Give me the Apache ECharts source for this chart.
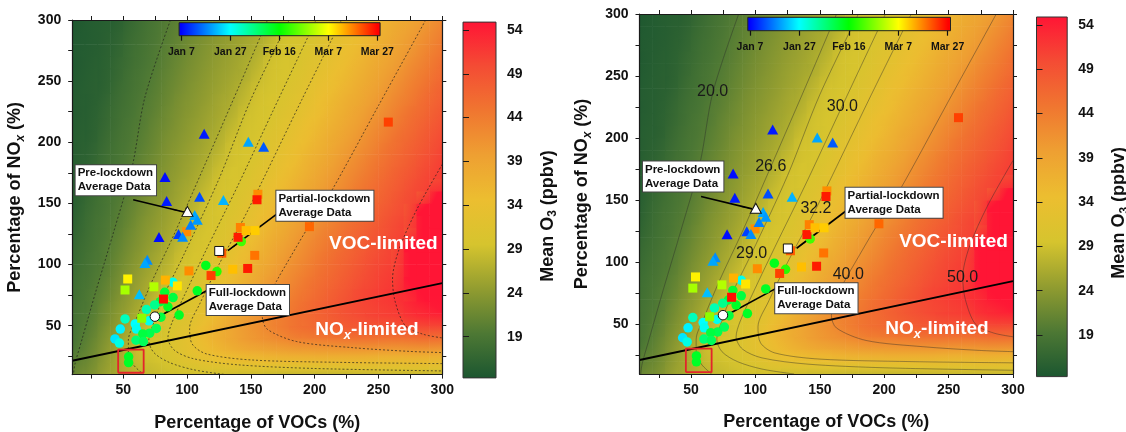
<!DOCTYPE html>
<html><head><meta charset="utf-8">
<script src="https://cdn.jsdelivr.net/npm/echarts@6/dist/echarts.min.js"></script>
<style>html,body{margin:0;padding:0;background:#fff}#c{width:1126px;height:432px}</style>
</head><body><div id="c"></div>
<script>
// ---------------- data ----------------
const gridXCenters = [15,25,35,45,55,65,75,85,95,105,115,125,135,145,155,165,175,185,195,205,215,225,235,245,255,265,275,285,295];
const gridYCenters = [15,25,35,45,55,65,75,85,95,105,115,125,135,145,155,165,175,185,195,205,215,225,235,245,255,265,275,285,295];
// Mean O3 (ppbv) read from the background field, rows bottom (NOx 15%) -> top (NOx 295%)
const o3Rows = [
[21.4,22.6,24.5,25.9,27.1,28.1,28.7,29.2,29.8,30.3,30.8,31.0,31.3,31.4,31.5,31.5,31.5,31.6,31.6,31.6,31.6,31.6,31.7,31.7,31.7,31.6,31.7,31.7,31.7],
[20.5,21.9,23.9,25.7,27.4,28.8,29.4,30.0,31.1,32.3,33.5,34.5,35.2,35.8,36.2,36.6,36.9,37.2,37.3,37.4,37.4,37.4,37.4,37.3,37.2,37.1,37.3,37.3,37.1],
[19.6,21.3,23.3,25.2,27.1,28.8,29.6,30.3,31.7,33.3,35.1,36.7,37.9,39.1,39.9,40.5,41.1,41.7,42.0,42.2,42.5,42.8,42.9,42.9,42.8,42.8,43.1,43.3,43.2],
[19.3,20.7,22.7,24.5,26.3,28.1,29.3,29.9,31.3,33.1,35.3,37.1,38.7,40.1,41.3,42.4,43.5,44.6,45.2,45.8,46.4,46.9,47.2,47.3,47.3,47.4,47.9,48.2,48.1],
[19.0,20.2,22.1,23.9,25.6,27.3,29.0,29.7,30.7,32.1,34.2,36.3,38.1,39.9,41.3,42.8,44.0,45.2,46.1,47.0,47.9,48.7,49.4,50.0,50.3,50.6,51.4,52.0,52.2],
[18.8,19.8,21.6,23.4,25.0,26.6,28.3,29.4,30.0,31.4,33.1,35.2,37.1,38.9,40.5,42.0,43.4,44.9,46.1,47.2,48.3,49.3,50.1,50.7,51.2,51.8,53.0,53.8,54.5],
[18.5,19.6,21.0,22.8,24.4,25.9,27.6,29.1,29.7,30.8,32.2,34.2,36.2,37.9,39.7,41.2,42.6,44.1,45.4,46.6,47.8,48.9,50.1,50.8,51.5,52.2,53.3,54.9,54.9],
[18.3,19.3,20.6,22.3,23.9,25.4,26.9,28.6,29.5,30.1,31.5,33.2,35.2,37.0,38.7,40.4,41.8,43.3,44.7,46.0,47.1,48.3,49.5,50.4,51.2,51.9,54.9,54.9,54.9],
[18.0,19.0,20.1,21.8,23.4,24.8,26.2,27.8,29.2,29.8,30.9,32.3,34.2,36.1,37.8,39.5,41.0,42.5,43.9,45.3,46.5,47.7,48.9,50.0,50.8,51.5,54.9,54.9,54.9],
[17.7,18.8,19.8,21.3,22.9,24.3,25.7,27.1,28.8,29.5,30.3,31.6,33.3,35.1,36.9,38.5,40.2,41.6,43.1,44.6,45.9,47.1,48.3,49.5,50.4,51.2,54.9,54.9,54.9],
[17.4,18.5,19.6,20.9,22.4,23.8,25.1,26.5,28.1,29.3,29.9,31.0,32.4,34.2,36.0,37.7,39.3,40.8,42.3,43.8,45.2,46.4,47.6,48.8,50.0,50.8,54.9,54.9,54.9],
[17.0,18.3,19.3,20.5,22.0,23.4,24.7,25.9,27.4,29.0,29.6,30.4,31.7,33.3,35.1,36.8,38.4,40.0,41.5,43.0,44.4,45.8,47.0,48.2,49.4,50.4,51.2,54.9,54.9],
[16.7,18.1,19.1,20.1,21.5,23.0,24.2,25.4,26.7,28.3,29.3,29.9,31.1,32.5,34.2,36.0,37.5,39.1,40.7,42.1,43.6,45.1,46.3,47.5,48.8,50.0,50.8,54.9,54.9],
[16.4,17.8,18.8,19.8,21.1,22.5,23.8,25.0,26.2,27.6,29.1,29.7,30.5,31.8,33.4,35.1,36.7,38.3,39.8,41.3,42.8,44.3,45.6,46.9,48.1,49.3,50.4,54.9,54.9],
[16.1,17.4,18.6,19.5,20.7,22.1,23.4,24.5,25.7,27.0,28.6,29.4,30.0,31.2,32.6,34.2,35.9,37.4,39.0,40.5,42.0,43.5,45.0,46.2,47.4,48.7,49.9,50.8,54.9],
[15.9,17.1,18.3,19.3,20.4,21.7,23.0,24.1,25.3,26.4,27.9,29.2,29.7,30.6,31.9,33.4,35.1,36.6,38.1,39.6,41.1,42.6,44.1,45.5,46.8,48.0,49.3,50.4,51.2],
[15.9,16.8,18.1,19.1,20.0,21.3,22.6,23.8,24.8,25.9,27.2,28.8,29.5,30.1,31.3,32.6,34.2,35.8,37.3,38.8,40.3,41.8,43.3,44.8,46.1,47.4,48.6,49.9,50.8],
[15.8,16.5,17.8,18.8,19.8,21.0,22.2,23.4,24.5,25.5,26.6,28.1,29.2,29.8,30.7,32.0,33.5,35.0,36.6,38.0,39.5,41.0,42.5,44.0,45.4,46.7,47.9,49.2,50.4],
[15.7,16.3,17.5,18.6,19.5,20.6,21.8,23.1,24.1,25.1,26.1,27.4,29.0,29.5,30.2,31.4,32.7,34.2,35.8,37.2,38.7,40.1,41.6,43.1,44.7,46.0,47.3,48.5,49.8],
[15.6,16.0,17.2,18.4,19.3,20.3,21.5,22.7,23.7,24.7,25.7,26.8,28.4,29.3,29.8,30.8,32.0,33.5,35.0,36.5,37.9,39.3,40.8,42.3,43.8,45.3,46.6,47.9,49.2],
[15.5,15.9,16.9,18.1,19.1,20.0,21.2,22.3,23.4,24.4,25.3,26.3,27.7,29.1,29.6,30.3,31.5,32.8,34.3,35.7,37.1,38.5,39.9,41.5,43.0,44.5,45.9,47.2,48.5],
[15.4,15.8,16.7,17.9,18.8,19.8,20.8,22.0,23.1,24.0,25.0,25.9,27.0,28.6,29.4,29.9,30.9,32.1,33.5,35.0,36.4,37.8,39.2,40.6,42.1,43.7,45.2,46.5,47.8],
[15.4,15.7,16.4,17.6,18.6,19.5,20.5,21.6,22.8,23.7,24.6,25.6,26.5,27.9,29.2,29.7,30.4,31.6,32.8,34.3,35.7,37.1,38.4,39.8,41.3,42.8,44.3,45.8,47.1],
[15.3,15.7,16.1,17.3,18.4,19.3,20.2,21.3,22.4,23.4,24.3,25.2,26.1,27.3,28.8,29.4,30.0,31.0,32.2,33.6,35.0,36.3,37.7,39.0,40.4,42.0,43.5,45.0,46.4],
[15.2,15.6,16.0,17.0,18.2,19.1,20.0,21.0,22.1,23.1,24.0,24.9,25.7,26.6,28.1,29.2,29.7,30.5,31.7,32.9,34.3,35.6,37.0,38.3,39.6,41.1,42.7,44.2,45.6],
[15.1,15.5,15.9,16.8,17.9,18.8,19.7,20.7,21.8,22.8,23.7,24.6,25.4,26.3,27.5,29.0,29.5,30.0,31.1,32.2,33.6,35.0,36.3,37.6,38.9,40.2,41.8,43.3,44.9],
[15.1,15.4,15.8,16.5,17.7,18.6,19.5,20.5,21.5,22.5,23.4,24.3,25.1,25.9,26.9,28.4,29.3,29.8,30.6,31.7,33.0,34.3,35.6,36.9,38.2,39.5,40.9,42.5,44.0],
[15.0,15.3,15.7,16.3,17.4,18.4,19.3,20.2,21.2,22.2,23.1,24.0,24.8,25.6,26.4,27.7,29.1,29.6,30.1,31.2,32.3,33.6,34.9,36.2,37.5,38.8,40.1,41.6,43.2],
[14.9,15.3,15.6,16.0,17.1,18.2,19.1,20.0,20.9,21.9,22.9,23.7,24.5,25.3,26.1,27.1,28.6,29.3,29.8,30.7,31.8,33.0,34.3,35.6,36.8,38.1,39.3,40.7,42.3]
];
const o3Min = 14.3, o3Max = 54.9;
const o3Colors = ['#1b5630','#4d7834','#919c30','#d6c42e','#ecbe30','#eea032','#f07630','#f44c34','#ff1535'];
const o3Ticks = [19,24,29,34,39,44,49,54];

const axisTickVals = [25,50,75,100,125,150,175,200,225,250,275,300];
const axisLabelVals = [50,100,150,200,250,300];

// points: [VOC %, NOx %, day of year 2020]
const prePts = [[113.4,207,9],[148,200.5,20],[160,196.4,14],[82.7,171.5,8],[84,152,9],[109.8,155.5,13],[128.5,152.8,21],[106,140.5,20],[108,136.7,19],[102.8,132.5,17],[93.3,125,12],[96.5,122.8,18],[78,122.5,8],[68.8,104,18],[67,101.3,20],[62.6,75.8,22]];
const fullPts = [[114.7,99.3,45],[123.4,94.3,50],[108,78.5,44],[93.8,58.7,44],[89,85.5,28],[82.5,77.3,43],[89,73,42],[79,69.6,42],[85,65.5,44],[74.6,67,36],[68.2,63.2,33],[79.5,57,42],[51.4,55.5,32],[70.2,54,28],[59.4,51.4,27],[60.3,47.2,28],[47.7,47.2,26],[75.9,47.8,40],[70.7,43.9,41],[65.3,43.3,42],[60,38.1,38],[65.8,37,40],[43.5,39.2,25],[47,35.8,29],[54.2,24.6,44],[54.2,19.8,44],[142.5,118.8,52]];
const partPts = [[99.7,126.9,76],[53.5,88.2,68],[51.4,79.2,60],[74,81.8,61],[83,87.3,73],[92.4,82.5,69],[81.5,71.8,86],[101.5,94.8,76],[118.8,91,82],[135.8,96.2,72],[127.2,109.3,80],[140,122.3,85],[141.8,130.3,77],[146.3,127.8,72],[153.3,127.8,71],[155.5,157.5,76],[154.8,153,85],[153,107.5,78],[147.5,96.8,85],[195.9,131,79],[257.7,216.5,82],[64.5,56.1,58]];
const avgPre = [100.3,143.5], avgPart = [125.2,111.1], avgFull = [74.8,57.4];

const dateTickDays = [7,27,47,67,87];
const dateTickLabels = ['Jan 7','Jan 27','Feb 16','Mar 7','Mar 27'];
const dateColors = ['#0000ff','#00ffff','#00ff00','#ffff00','#ff0000'];
const dateMin = 6.1, dateMax = 88.15;

const ridgeLine = [[10,21.3],[300,84.8]];
const redBox = [[46,11.5],[66,11.5],[66,30.5],[46,30.5],[46,11.5]];

const contourLevels = ['20.0','26.6','29.0','30.0','32.2','40.0','50.0'];
const contourPaths = [
  [[87,300],[67,237],[57,180],[42,125],[28.5,78],[18,40],[12,18],[11,10]],
  [[163,300],[142.5,250],[112,177],[90,125],[72,85],[60,55],[54,38],[54,28],[58,18],[66,10]],
  [[180,300],[150,235],[125,170],[97,107],[82,75],[73,50],[70,38],[74,28],[86,20],[105,14],[130,10]],
  [[201,300],[167,225],[140,165],[115,112],[98,75],[88,52],[85,40],[90,30],[105,23],[140,18],[200,15],[300,13]],
  [[221,300],[190,235],[147,143],[125,100],[110,68],[102,48],[104,35],[115,27],[150,22],[220,20],[300,19]],
  [[287,300],[250,230],[212,158],[194,129],[177,99],[172,90],[162,70],[159,57],[163,47],[186,37],[230,32],[274,29],[300,28]],
  [[300,182],[280,145],[266,112],[261,88],[263,70],[271,50],[285,43],[300,40]]
];
const contourLabelPos = [[66.8,237.5],[111.9,177],[97.1,107.3],[167.5,225.4],[147,143.5],[172.1,89.8],[260.9,87.9]];

const boxTexts = ['Pre-lockdown\nAverage Data','Partial-lockdown\nAverage Data','Full-lockdown\nAverage Data'];
const boxAnchors = [[12.3,169],[169.6,148],[115,71]];
const arrows = [[[57.8,153],[97.5,143]],[[170.5,141.5],[132,111.3]],[[116,79],[78.2,57.7]]];
const regionTexts = ['VOC-limited','NO{sub|x}-limited'];
const regionPos = [[253.8,116.8],[241,46.6]];

// ---------------- chart ----------------
const FONT = '"Liberation Sans", Arial, Helvetica, sans-serif';
const panels = [
  {grid:{left:72.2, top:20, width:370.1, height:354.6}, cbar:{left:463, top:22.1, width:33, height:355.8},
   dbar:{left:179.1, top:22.7, width:201, height:13}, contourType:[2,2], contourWidth:0.9, contourColor:'rgba(30,30,30,0.75)', labels:false},
  {grid:{left:639.5, top:14, width:373.5, height:360}, cbar:{left:1036.5, top:17, width:30.7, height:359.6},
   dbar:{left:747.8, top:17.3, width:202.7, height:13.4}, contourType:'solid', contourWidth:0.7, contourColor:'rgba(40,40,40,0.6)', labels:true}
];

// colour scale helper (same stops as the colour bar)
const o3Rgb = o3Colors.map(c => [parseInt(c.slice(1,3),16), parseInt(c.slice(3,5),16), parseInt(c.slice(5,7),16)]);
function o3Color(v) {
  let t = (v - o3Min) / (o3Max - o3Min);
  t = Math.max(0, Math.min(1, t)) * (o3Rgb.length - 1);
  const i = Math.min(o3Rgb.length - 2, Math.floor(t)), f = t - i;
  const a = o3Rgb[i], b = o3Rgb[i + 1];
  return 'rgb(' + [0,1,2].map(k => Math.round(a[k] + (b[k] - a[k]) * f)).join(',') + ')';
}

// cells: [x centre, y centre, value, dValue/dx, dValue/dy] (slopes from neighbouring cells, used for shading)
const nR = o3Rows.length, nC = gridXCenters.length;
const cellData = [];
for (let j = 0; j < nR; j++) {
  for (let i = 0; i < nC; i++) {
    const l = o3Rows[j][Math.max(0, i - 1)], r = o3Rows[j][Math.min(nC - 1, i + 1)];
    const d = o3Rows[Math.max(0, j - 1)][i], u = o3Rows[Math.min(nR - 1, j + 1)][i];
    const sx = (r - l) / (gridXCenters[Math.min(nC - 1, i + 1)] - gridXCenters[Math.max(0, i - 1)]);
    const sy = (u - d) / (gridYCenters[Math.min(nR - 1, j + 1)] - gridYCenters[Math.max(0, j - 1)]);
    cellData.push([gridXCenters[i], gridYCenters[j], o3Rows[j][i], sx, sy]);
  }
}
const HALF = 5;
function renderCell(params, api) {
  const cx = api.value(0), cy = api.value(1), v = api.value(2), gx = api.value(3), gy = api.value(4);
  const p0 = api.coord([cx - HALF, cy - HALF]), p1 = api.coord([cx + HALF, cy + HALF]);
  const x = p0[0], y = p1[1], W = p1[0] - p0[0], H = p0[1] - p1[1];
  const A = 2 * HALF * gx / W, B = -2 * HALF * gy / H;
  const m = Math.hypot(A, B);
  let fill;
  if (m < 1e-6) fill = o3Color(v);
  else {
    const d = 0.5 * Math.hypot(W, H), ux = A / m, uy = B / m, mx = x + W / 2, my = y + H / 2;
    fill = new echarts.graphic.LinearGradient(mx - ux * d, my - uy * d, mx + ux * d, my + uy * d,
      [{offset:0, color:o3Color(v - m * d)}, {offset:0.5, color:o3Color(v)}, {offset:1, color:o3Color(v + m * d)}], true);
  }
  return {type:'rect', shape:{x:x - 0.3, y:y - 0.3, width:W + 0.6, height:H + 0.6}, style:{fill:fill}};
}

const axisLineStyle = {color:'#1a1a1a', width:1.2};
const tickStyle = {color:'#1a1a1a', width:1};
const tickLabel = {fontFamily:FONT, fontSize:14, fontWeight:'bold', color:'#111'};
const titleStyle = {fontFamily:FONT, fontSize:18, fontWeight:'bold', color:'#111', lineHeight:22,
  rich:{sub:{fontFamily:FONT, fontSize:12, fontWeight:'bold', fontStyle:'italic', color:'#111', lineHeight:22, verticalAlign:'bottom'},
        sub3:{fontFamily:FONT, fontSize:12, fontWeight:'bold', color:'#111', lineHeight:22, verticalAlign:'bottom'}}};

const o3Stops = o3Colors.map((c, i) => ({offset: i / (o3Colors.length - 1), color: c}));
const dateStops = [{offset:0, color:dateColors[0]}].concat(
  dateTickDays.map((d, i) => ({offset:(d - dateMin) / (dateMax - dateMin), color:dateColors[i]})),
  [{offset:1, color:dateColors[dateColors.length - 1]}]);

const grids = [], xAxes = [], yAxes = [], series = [], dateIdx = [];
const solid = {opacity:1};
const hidden = {color:'rgba(0,0,0,0)', opacity:1};

panels.forEach((P) => {
  const g = grids.length;
  grids.push(Object.assign({containLabel:false, outerBoundsMode:'none'}, P.grid));
  const xb = xAxes.length, yb = yAxes.length;
  const mainX = {type:'value', gridIndex:g, min:10, max:300, z:20, splitLine:{show:false},
    axisLine:{show:true, onZero:false, lineStyle:axisLineStyle},
    axisTick:{show:true, inside:false, length:4, customValues:axisTickVals, lineStyle:tickStyle}};
  xAxes.push(Object.assign({}, mainX, {position:'bottom',
    axisLabel:Object.assign({margin:9, customValues:axisLabelVals}, tickLabel),
    name:'Percentage of VOCs (%)', nameLocation:'middle', nameGap:37, nameMoveOverlap:false, nameTextStyle:titleStyle}));
  xAxes.push(Object.assign({}, mainX, {position:'top', axisLabel:{show:false}}));
  yAxes.push(Object.assign({}, mainX, {position:'left',
    axisLabel:Object.assign({margin:11, customValues:axisLabelVals}, tickLabel),
    name:'Percentage of NO{sub|x} (%)', nameLocation:'middle', nameGap:46, nameMoveOverlap:false, nameTextStyle:titleStyle}));
  yAxes.push(Object.assign({}, mainX, {position:'right', axisLabel:{show:false}}));

  const X = xb, Y = yb;
  series.push({type:'custom', xAxisIndex:X, yAxisIndex:Y, data:cellData, renderItem:renderCell, z:1, silent:true,
    clip:true, progressive:0, animation:false});
  contourPaths.forEach((path) => series.push({type:'line', xAxisIndex:X, yAxisIndex:Y, data:path, symbol:'none', smooth:0.3,
    silent:true, z:3, lineStyle:{color:P.contourColor, width:P.contourWidth, type:P.contourType}}));
  series.push({type:'line', xAxisIndex:X, yAxisIndex:Y, data:ridgeLine, symbol:'none', silent:true, z:4,
    lineStyle:{color:'#000', width:2}});
  series.push({type:'line', xAxisIndex:X, yAxisIndex:Y, data:redBox, symbol:'none', silent:true, z:9,
    lineStyle:{color:'#e3242b', width:1.8}});
  dateIdx.push(series.length);
  series.push({type:'scatter', xAxisIndex:X, yAxisIndex:Y, data:fullPts, symbol:'circle', symbolSize:9.5, z:5, silent:true, itemStyle:solid});
  dateIdx.push(series.length);
  series.push({type:'scatter', xAxisIndex:X, yAxisIndex:Y, data:partPts, symbol:'rect', symbolSize:9, z:6, silent:true, itemStyle:solid});
  dateIdx.push(series.length);
  series.push({type:'scatter', xAxisIndex:X, yAxisIndex:Y, data:prePts, symbol:'triangle', symbolSize:[11,10], z:7, silent:true, itemStyle:solid});
  series.push({type:'scatter', xAxisIndex:X, yAxisIndex:Y, z:8, silent:true,
    itemStyle:{color:'#fff', borderColor:'#111', borderWidth:1, opacity:1},
    data:[{value:avgPre, symbol:'triangle', symbolSize:[11,10]}, {value:avgPart, symbol:'rect', symbolSize:9},
          {value:avgFull, symbol:'circle', symbolSize:9.5}]});
  series.push({type:'line', xAxisIndex:X, yAxisIndex:Y, data:[], z:9, silent:true,
    markLine:{silent:true, symbol:['none','arrow'], symbolSize:[1,11], label:{show:false}, animation:false,
      lineStyle:{color:'#000', width:1.6, type:'solid', opacity:1}, emphasis:{disabled:true},
      data:arrows.map(a => [{coord:a[0]}, {coord:a[1]}])}});
  series.push({type:'scatter', xAxisIndex:X, yAxisIndex:Y, data:boxAnchors, symbolSize:1, z:10, silent:true,
    itemStyle:hidden,
    label:{show:true, position:'right', distance:0, align:'left', formatter:(p) => boxTexts[p.dataIndex],
      fontFamily:FONT, fontSize:11.5, fontWeight:'bold', color:'#111', lineHeight:14,
      backgroundColor:'#fff', borderColor:'#444', borderWidth:1, padding:[1,3,1,2]}});
  series.push({type:'scatter', xAxisIndex:X, yAxisIndex:Y, data:regionPos, symbolSize:1, z:10, silent:true,
    itemStyle:hidden,
    label:{show:true, position:'inside', formatter:(p) => regionTexts[p.dataIndex],
      fontFamily:FONT, fontSize:19, fontWeight:'bold', color:'#fff', lineHeight:24,
      rich:{sub:{fontFamily:FONT, fontSize:13, fontWeight:'bold', fontStyle:'italic', color:'#fff', lineHeight:24, verticalAlign:'bottom'}}}});
  if (P.labels) {
    series.push({type:'scatter', xAxisIndex:X, yAxisIndex:Y, data:contourLabelPos, symbolSize:1, z:10, silent:true,
      itemStyle:hidden,
      label:{show:true, position:'inside', formatter:(p) => contourLevels[p.dataIndex],
        fontFamily:FONT, fontSize:16, color:'#1a1a1a'}});
  }

  // O3 colour bar
  const gc = grids.length;
  grids.push(Object.assign({containLabel:false, outerBoundsMode:'none'}, P.cbar));
  const xc = xAxes.length, yc = yAxes.length;
  xAxes.push({type:'value', gridIndex:gc, min:0, max:1, show:false});
  yAxes.push({type:'value', gridIndex:gc, position:'right', min:o3Min, max:o3Max, z:20, splitLine:{show:false},
    axisLine:{show:false}, axisTick:{show:true, inside:false, length:6, customValues:o3Ticks, lineStyle:tickStyle},
    axisLabel:Object.assign({margin:11, customValues:o3Ticks}, tickLabel),
    name:'Mean O{sub3|3} (ppbv)', nameLocation:'middle', nameRotate:90, nameGap:41, nameMoveOverlap:false,
    nameTextStyle:Object.assign({}, titleStyle, {padding:[0,32,0,0]})});
  series.push({type:'custom', xAxisIndex:xc, yAxisIndex:yc, data:[[o3Min, o3Max]], z:2, silent:true,
    renderItem:(params, api) => {
      const p0 = api.coord([0, api.value(0)]), p1 = api.coord([1, api.value(1)]);
      return {type:'rect', shape:{x:p0[0], y:p1[1], width:p1[0] - p0[0], height:p0[1] - p1[1]},
        style:{fill:new echarts.graphic.LinearGradient(0, 1, 0, 0, o3Stops), stroke:'#333', lineWidth:1}};
    }});

  // date colour bar
  const gd = grids.length;
  grids.push(Object.assign({containLabel:false, outerBoundsMode:'none'}, P.dbar));
  const xd = xAxes.length, yd = yAxes.length;
  xAxes.push({type:'value', gridIndex:gd, position:'bottom', min:dateMin, max:dateMax, z:20, splitLine:{show:false},
    axisLine:{show:false}, axisTick:{show:true, inside:false, length:5, customValues:dateTickDays, lineStyle:{color:'#111', width:1.2}},
    axisLabel:{customValues:dateTickDays, margin:11, fontFamily:FONT, fontSize:10.5, fontWeight:'bold', color:'#111',
      formatter:(v) => dateTickLabels[dateTickDays.indexOf(Math.round(v))]}});
  yAxes.push({type:'value', gridIndex:gd, min:0, max:1, show:false});
  series.push({type:'custom', xAxisIndex:xd, yAxisIndex:yd, data:[[dateMin, dateMax]], z:12, silent:true,
    renderItem:(params, api) => {
      const p0 = api.coord([api.value(0), 0]), p1 = api.coord([api.value(1), 1]);
      return {type:'rect', shape:{x:p0[0], y:p1[1], width:p1[0] - p0[0], height:p0[1] - p1[1]},
        style:{fill:new echarts.graphic.LinearGradient(0, 0, 1, 0, dateStops), stroke:'#222', lineWidth:1}};
    }});
});

const chart = echarts.init(document.getElementById('c'), null, {renderer:'canvas', width:1126, height:432});
chart.setOption({
  animation:false,
  backgroundColor:'#fff',
  textStyle:{fontFamily:FONT},
  grid:grids, xAxis:xAxes, yAxis:yAxes,
  visualMap:[
    {type:'continuous', show:false, min:7, max:87, dimension:2, seriesIndex:dateIdx, inRange:{color:dateColors}}
  ],
  series:series
});
</script></body></html>
